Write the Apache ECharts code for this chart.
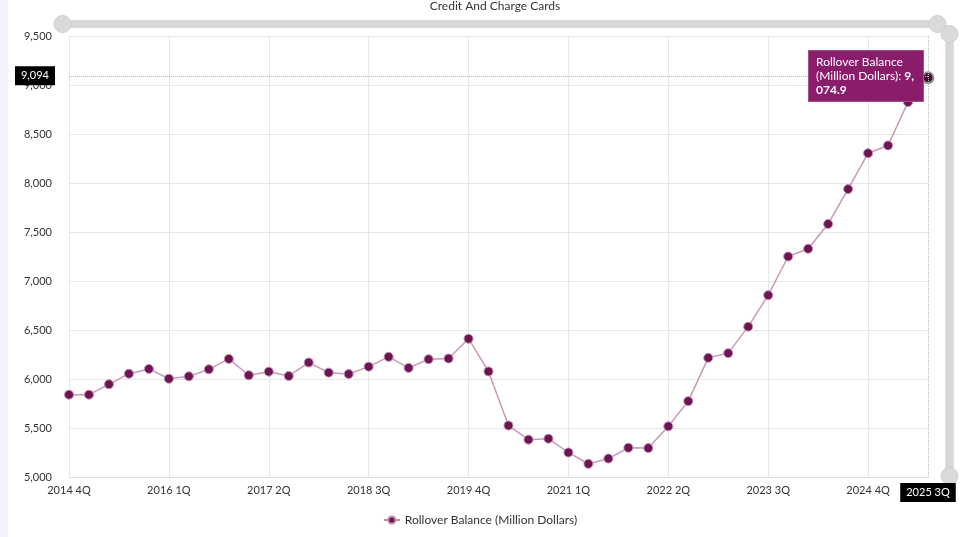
<!DOCTYPE html>
<html>
<head>
<meta charset="utf-8">
<script src="https://cdn.jsdelivr.net/npm/echarts@6/dist/echarts.min.js"></script>
<style>
html,body{margin:0;padding:0;background:#fff;}
#chart{width:960px;height:537px;}
</style>
</head>
<body>
<div id="chart"></div>
<script>
const chartTitle = 'Credit And Charge Cards';
const seriesName = 'Rollover Balance (Million Dollars)';
const categories = [
  '2014 4Q',
  '2015 1Q','2015 2Q','2015 3Q','2015 4Q',
  '2016 1Q','2016 2Q','2016 3Q','2016 4Q',
  '2017 1Q','2017 2Q','2017 3Q','2017 4Q',
  '2018 1Q','2018 2Q','2018 3Q','2018 4Q',
  '2019 1Q','2019 2Q','2019 3Q','2019 4Q',
  '2020 1Q','2020 2Q','2020 3Q','2020 4Q',
  '2021 1Q','2021 2Q','2021 3Q','2021 4Q',
  '2022 1Q','2022 2Q','2022 3Q','2022 4Q',
  '2023 1Q','2023 2Q','2023 3Q','2023 4Q',
  '2024 1Q','2024 2Q','2024 3Q','2024 4Q',
  '2025 1Q','2025 2Q','2025 3Q'
];
const rolloverBalance = [
  5840,
  5840, 5946, 6054, 6103,
  6003, 6027, 6099, 6205,
  6038, 6075, 6031, 6168,
  6065, 6051, 6126, 6226,
  6113, 6202, 6209, 6411,
  6077, 5525, 5381, 5391,
  5250, 5134, 5188, 5298,
  5295, 5517, 5774, 6216,
  6264, 6534, 6855, 7250,
  7329, 7582, 7938, 8304,
  8383, 8825, 9074.9
];
const yMin = 5000;
const yMax = 9500;
const yStep = 500;
const tooltipIndex = 43;
const pointerValue = 9094;

const FONT = 'Lato, "Open Sans", sans-serif';
const fmt = v => Math.round(v).toLocaleString('en-US');

const chart = echarts.init(document.getElementById('chart'), null, {renderer: 'canvas'});
chart.setOption({
  animation: false,
  textStyle: {fontFamily: FONT},
  graphic: [{type: 'rect', left: 0, top: 0, shape: {width: 8, height: 537}, style: {fill: '#f3f2fa'}, z: -1}],
  title: {
    text: chartTitle, left: 490, top: -5, textAlign: 'center',
    textStyle: {fontFamily: FONT, fontSize: 12, fontWeight: 'normal', color: '#333'}
  },
  grid: {left: 69, right: 32, top: 36, bottom: 60},
  legend: {
    bottom: 6, left: 'center', itemWidth: 16, itemHeight: 9, itemGap: 10,
    textStyle: {fontFamily: FONT, fontSize: 12, color: '#333'},
    data: [seriesName]
  },
  tooltip: {
    trigger: 'axis',
    alwaysShowContent: true,
    transitionDuration: 0,
    backgroundColor: '#8a1c6c',
    borderColor: '#a4508a',
    borderWidth: 1,
    borderRadius: 0,
    padding: [4, 7],
    textStyle: {color: '#fff', fontFamily: FONT, fontSize: 12},
    extraCssText: 'box-shadow:none;width:100px;white-space:normal;line-height:14px;',
    axisPointer: {
      type: 'cross',
      lineStyle: {color: '#bbb', type: 'dotted', width: 1},
      crossStyle: {color: '#bbb', type: 'dotted', width: 1},
      label: {backgroundColor: '#000', color: '#fff', fontFamily: FONT, fontSize: 11, padding: [4, 6], borderRadius: 0}
    },
    position: function (point, params, dom, rect, size) {
      return [point[0] - size.contentSize[0] - 4, point[1] - size.contentSize[1] / 2];
    },
    formatter: function (params) {
      const p = params[0];
      const v = p.value.toLocaleString('en-US', {maximumFractionDigits: 1});
      return p.seriesName + ': <b style="word-break:break-all">' + v + '</b>';
    }
  },
  dataZoom: [
    {
      type: 'slider', xAxisIndex: 0, filterMode: 'none', start: 0, end: 100,
      top: 20, height: 8, left: 60, right: 23,
      showDetail: false, showDataShadow: false, brushSelect: false, moveHandleSize: 0,
      backgroundColor: '#d7d7d7', fillerColor: '#d7d7d7', borderColor: 'transparent',
      handleIcon: 'circle', handleSize: 17,
      handleStyle: {color: '#dadada', borderColor: '#cfcfcf', borderWidth: 1}
    },
    {
      type: 'slider', yAxisIndex: 0, orient: 'vertical', filterMode: 'none', start: 0, end: 100,
      right: 7, width: 8, top: 33, bottom: 60,
      showDetail: false, showDataShadow: false, brushSelect: false, moveHandleSize: 0,
      backgroundColor: '#d7d7d7', fillerColor: '#d7d7d7', borderColor: 'transparent',
      handleIcon: 'circle', handleSize: 17,
      handleStyle: {color: '#dadada', borderColor: '#cfcfcf', borderWidth: 1}
    }
  ],
  xAxis: {
    type: 'category',
    data: categories,
    boundaryGap: false,
    axisLine: {show: true, lineStyle: {color: '#ddd'}},
    axisTick: {show: false},
    axisLabel: {interval: 4, color: '#333', fontSize: 11, fontFamily: FONT, margin: 8},
    splitLine: {show: true, interval: 4, lineStyle: {color: '#e6e6e6'}},
    axisPointer: {label: {margin: 6}}
  },
  yAxis: {
    type: 'value',
    min: yMin, max: yMax, interval: yStep,
    axisLine: {show: false},
    axisTick: {show: false},
    axisLabel: {color: '#333', fontSize: 11, fontFamily: FONT, margin: 17, formatter: fmt},
    splitLine: {show: true, lineStyle: {color: '#e6e6e6'}},
    axisPointer: {label: {margin: 14, formatter: p => fmt(p.value)}}
  },
  series: [{
    name: seriesName,
    type: 'line',
    data: rolloverBalance,
    symbol: 'circle',
    symbolSize: 9,
    showAllSymbol: true,
    lineStyle: {color: '#b98aa9', width: 1.5},
    itemStyle: {color: '#6b1552', borderColor: '#c48db0', borderWidth: 1},
    emphasis: {scale: 1.2, itemStyle: {color: '#3d0a30', borderColor: '#8f8f8f', borderWidth: 2}}
  }]
});

const px = chart.convertToPixel({xAxisIndex: 0, yAxisIndex: 0}, [categories[tooltipIndex], pointerValue]);
chart.dispatchAction({type: 'showTip', x: px[0], y: px[1]});
</script>
</body>
</html>
